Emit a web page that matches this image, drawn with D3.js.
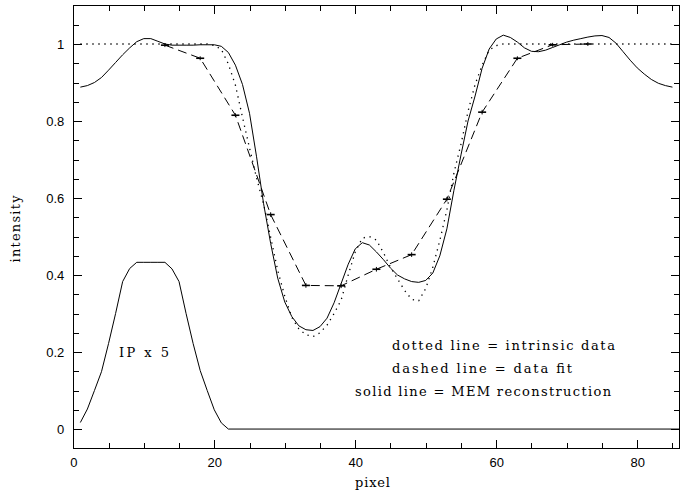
<!DOCTYPE html>
<html>
<head>
<meta charset="utf-8">
<script src="https://cdn.jsdelivr.net/npm/d3@7"></script>
<style>
  html, body { margin: 0; padding: 0; background: #fff; }
  svg { display: block; }
  .tick text { font-family: "Liberation Sans", Arial, sans-serif; font-size: 13px; fill: #000; }
  .lbl { font-family: "DejaVu Serif", "Liberation Serif", serif; font-size: 13px; fill: #000; }
</style>
</head>
<body>
<svg id="chart" width="687" height="495"></svg>
<script>
var pixels = d3.range(1, 86);

// solid line: MEM reconstruction
var memValues = [
  0.888, 0.892, 0.900, 0.913, 0.932, 0.952, 0.972, 0.990, 1.006, 1.014,
  1.014, 1.007, 1.000, 0.997, 0.997, 0.997, 0.997, 0.998, 0.998, 0.998,
  0.994, 0.978, 0.945, 0.895, 0.820, 0.707, 0.585, 0.482, 0.392, 0.330,
  0.292, 0.268, 0.258, 0.256, 0.266, 0.288, 0.328, 0.378, 0.428, 0.468,
  0.484, 0.478, 0.460, 0.440, 0.418, 0.400, 0.390, 0.383, 0.381, 0.386,
  0.405, 0.450, 0.520, 0.620, 0.712, 0.800, 0.865, 0.937, 0.987, 1.013,
  1.023, 1.017, 1.005, 0.990, 0.981, 0.980, 0.984, 0.991, 0.998, 1.005,
  1.010, 1.014, 1.018, 1.021, 1.022, 1.017, 1.002, 0.980, 0.958, 0.938,
  0.922, 0.908, 0.898, 0.892, 0.888
];

// dotted line: intrinsic data
var trueValues = [
  1, 1, 1, 1, 1, 1, 1, 1, 1, 1,
  1, 1, 1, 1, 1, 1, 1, 1, 1, 0.996,
  0.986, 0.948, 0.893, 0.810, 0.730, 0.652, 0.584, 0.498, 0.412, 0.345,
  0.290, 0.260, 0.245, 0.240, 0.250, 0.270, 0.300, 0.335, 0.400, 0.460,
  0.496, 0.500, 0.491, 0.458, 0.420, 0.390, 0.360, 0.337, 0.333, 0.365,
  0.420, 0.490, 0.569, 0.665, 0.740, 0.825, 0.895, 0.945, 0.984, 0.996,
  1, 1, 1, 1, 1, 1, 1, 1, 1, 1,
  1, 1, 1, 1, 1, 1, 1, 1, 1, 1,
  1, 1, 1, 1, 1
];

// dashed line: data fit, with error bars
var fitPixels = [13, 18, 23, 28, 33, 38, 43, 48, 53, 58, 63, 68, 73];
var fitValues = [0.997, 0.963, 0.815, 0.557, 0.373, 0.372, 0.415, 0.453, 0.597, 0.823, 0.963, 0.998, 1.0];
var fitErrors = [0.005, 0.005, 0.005, 0.006, 0.006, 0.006, 0.006, 0.006, 0.006, 0.006, 0.005, 0.005, 0.005];

// instrumental profile, scaled x5
var ipPixels = [1, 2, 3, 4, 5, 6, 7, 8, 9, 10, 11, 12, 13, 14, 15, 16, 17, 18, 19, 20, 21, 22, 86];
var ipValues = [0.017, 0.052, 0.100, 0.149, 0.222, 0.300, 0.383, 0.417, 0.433, 0.433, 0.433,
                0.433, 0.433, 0.416, 0.383, 0.300, 0.222, 0.152, 0.100, 0.050, 0.016, 0, 0];

var xMajor = [0, 20, 40, 60, 80];
var xMajorLabels = ["0", "20", "40", "60", "80"];
var xMinor = [5, 10, 15, 25, 30, 35, 45, 50, 55, 65, 70, 75, 85];
var yMajor = [0, 0.2, 0.4, 0.6, 0.8, 1];
var yMajorLabels = ["0", "0.2", "0.4", "0.6", "0.8", "1"];
var yMinor = [0.05, 0.1, 0.15, 0.25, 0.3, 0.35, 0.45, 0.5, 0.55, 0.65, 0.7, 0.75, 0.85, 0.9, 0.95, 1.05];

var legendLines = ["dotted line = intrinsic data", "dashed line = data fit", "solid line = MEM reconstruction"];

var L = 73.3, R = 679.5, T = 5.5, B = 448.3;
var x = d3.scaleLinear().domain([0, 86]).range([L, R]);
var y = d3.scaleLinear().domain([-0.05, 1.1]).range([B, T]);

var svg = d3.select("#chart");

// axes: ticks point inwards on all four sides
function axisSet(axisFn, scale, major, labels, minor, tr, showLabels) {
  var gMaj = svg.append("g").attr("transform", tr)
    .call(axisFn(scale).tickValues(major).tickSize(-8.5).tickPadding(9)
      .tickFormat(function (d, i) { return showLabels ? labels[i] : ""; }));
  var gMin = svg.append("g").attr("transform", tr)
    .call(axisFn(scale).tickValues(minor).tickSize(-5.5).tickFormat(""));
  [gMaj, gMin].forEach(function (g) {
    g.select(".domain").remove();
    g.selectAll("line").attr("stroke", "#000").attr("shape-rendering", "crispEdges");
  });
  return gMaj;
}
axisSet(d3.axisBottom, x, xMajor, xMajorLabels, xMinor, "translate(0," + B + ")", true);
axisSet(d3.axisTop, x, xMajor, xMajorLabels, xMinor, "translate(0," + T + ")", false);
axisSet(d3.axisLeft, y, yMajor, yMajorLabels, yMinor, "translate(" + L + ",0)", true);
axisSet(d3.axisRight, y, yMajor, yMajorLabels, yMinor, "translate(" + R + ",0)", false);

svg.append("rect")
  .attr("x", L).attr("y", T).attr("width", R - L).attr("height", B - T)
  .attr("fill", "none").attr("stroke", "#000").attr("stroke-width", 1.2)
  .attr("shape-rendering", "crispEdges");

var line = d3.line()
  .x(function (d) { return x(d[0]); })
  .y(function (d) { return y(d[1]); });

function zip(a, b) { return a.map(function (v, i) { return [v, b[i]]; }); }

// dotted: intrinsic
svg.append("path").datum(zip(pixels, trueValues))
  .attr("d", line).attr("fill", "none").attr("stroke", "#000")
  .attr("stroke-width", 1.3).attr("stroke-dasharray", "1.3 4.7");

// solid: MEM
svg.append("path").datum(zip(pixels, memValues))
  .attr("d", line).attr("fill", "none").attr("stroke", "#000").attr("stroke-width", 1);

// solid: IP x 5
svg.append("path").datum(zip(ipPixels, ipValues))
  .attr("d", line).attr("fill", "none").attr("stroke", "#000").attr("stroke-width", 1);

// dashed: data fit
svg.append("path").datum(zip(fitPixels, fitValues))
  .attr("d", line).attr("fill", "none").attr("stroke", "#000")
  .attr("stroke-width", 1).attr("stroke-dasharray", "9 5");

var bars = svg.append("g").selectAll("g")
  .data(zip(fitPixels, fitValues)).join("g");
bars.append("line")
  .attr("x1", function (d) { return x(d[0]) - 4; })
  .attr("x2", function (d) { return x(d[0]) + 4; })
  .attr("y1", function (d) { return y(d[1]); })
  .attr("y2", function (d) { return y(d[1]); })
  .attr("stroke", "#000").attr("stroke-width", 1.6);
bars.append("line")
  .attr("x1", function (d) { return x(d[0]); })
  .attr("x2", function (d) { return x(d[0]); })
  .attr("y1", function (d, i) { return y(d[1] - fitErrors[i]); })
  .attr("y2", function (d, i) { return y(d[1] + fitErrors[i]); })
  .attr("stroke", "#000").attr("stroke-width", 1);

// text
svg.append("text").attr("class", "lbl")
  .attr("x", 355).attr("y", 487).attr("textLength", 35).text("pixel");
svg.append("text").attr("class", "lbl")
  .attr("transform", "translate(19.5,229) rotate(-90)")
  .attr("text-anchor", "middle").attr("textLength", 67).text("intensity");
svg.append("text").attr("class", "lbl")
  .attr("x", 119).attr("y", 357).attr("textLength", 50).text("IP x 5");

var legendX = [392, 392, 355];
var legendY = [350, 373, 396];
var legendW = [223, 180, 256];
svg.append("g").selectAll("text").data(legendLines).join("text")
  .attr("class", "lbl")
  .attr("x", function (d, i) { return legendX[i]; })
  .attr("y", function (d, i) { return legendY[i]; })
  .attr("textLength", function (d, i) { return legendW[i]; })
  .text(function (d) { return d; });
</script>
</body>
</html>
